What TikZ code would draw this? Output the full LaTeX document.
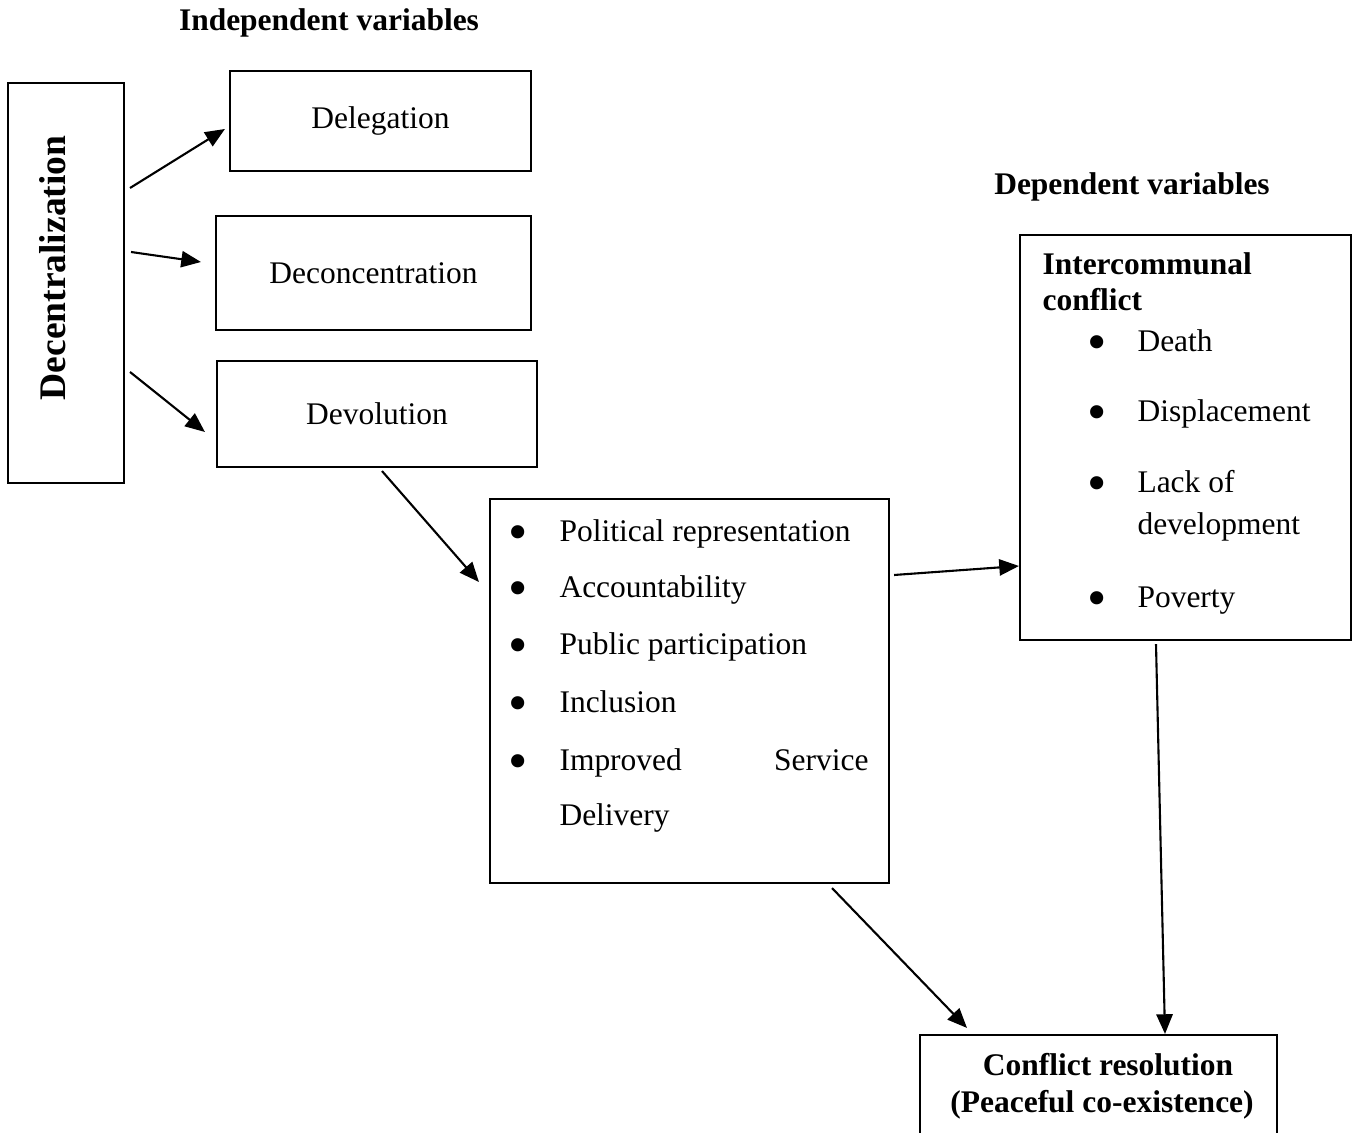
\documentclass[tikz,border=0pt]{standalone}
\usepackage{fontspec}
\setmainfont{Liberation Serif}
\usetikzlibrary{arrows.meta,calc}
\newcommand{\unitpx}{0.0134cm}

\begin{document}
\begin{tikzpicture}[x=0.0134cm, y=-0.0134cm,
  box/.style={draw, line width=0.8pt, inner sep=0pt},
  txt/.style={font=\fontsize{12}{14}\selectfont, inner sep=0pt},
  btxt/.style={font=\fontsize{12}{14}\selectfont\bfseries, inner sep=0pt},
  dot/.style={font=\fontsize{21}{21}\selectfont, inner sep=0pt},
  arr/.style={-{Triangle[length=7.5pt,width=6.2pt]}, line width=0.8pt}]
  \clip (0,0) rectangle (1357,1133);
  \fill[white] (0,0) rectangle (1357,1133);
  \node[btxt, anchor=base] (indep) at (329,31) {Independent variables};
  \node[btxt, anchor=base] (dep) at (1132,195) {Dependent variables};
  \node[box, minimum width=116*\unitpx, minimum height=400*\unitpx] (dec) at (66,283) {};
  \node[btxt, font=\fontsize{14.3}{17}\selectfont\bfseries, rotate=90] (dectxt) at (53,268) {Decentralization};
  \node[box, txt, minimum width=301*\unitpx, minimum height=100*\unitpx] (dele) at (380.5,121) {Delegation};
  \node[box, txt, minimum width=315*\unitpx, minimum height=114*\unitpx] (decon) at (373.5,273) {Deconcentration};
  \node[box, txt, minimum width=320*\unitpx, minimum height=106*\unitpx] (devo) at (377,414) {Devolution};
  % middle list
  \node[box, minimum width=399*\unitpx, minimum height=384*\unitpx] (list) at (689.5,691) {};
  \node[dot, anchor=base] (b1) at (518,551) {•};
  \node[txt, anchor=base west] (i1) at (559,542) {Political representation};
  \node[dot, anchor=base] (b2) at (518,607) {•};
  \node[txt, anchor=base west] (i2) at (559,598) {Accountability};
  \node[dot, anchor=base] (b3) at (518,664) {•};
  \node[txt, anchor=base west] (i3) at (559,655) {Public participation};
  \node[dot, anchor=base] (b4) at (518,722) {•};
  \node[txt, anchor=base west] (i4) at (559,713) {Inclusion};
  \node[dot, anchor=base] (b5) at (518,779) {•};
  \node[txt, anchor=base west, text width=309*\unitpx] (i5) at (559,770) {Improved\hfill Service};
  \node[txt, anchor=base west] (i6) at (559,826) {Delivery};
  % dependent box
  \node[box, minimum width=331*\unitpx, minimum height=405*\unitpx] (inter) at (1185.5,437.5) {};
  \node[btxt, anchor=base west] (h1) at (1042,275) {Intercommunal};
  \node[btxt, anchor=base west] (h2) at (1042,311) {conflict};
  \node[dot, anchor=base] (c1) at (1097,361) {•};
  \node[txt, anchor=base west] (d1) at (1137,352) {Death};
  \node[dot, anchor=base] (c2) at (1097,431) {•};
  \node[txt, anchor=base west] (d2) at (1137,422) {Displacement};
  \node[dot, anchor=base] (c3) at (1097,502) {•};
  \node[txt, anchor=base west] (d3) at (1137,493) {Lack of};
  \node[txt, anchor=base west] (d4) at (1137,535) {development};
  \node[dot, anchor=base] (c4) at (1097,617) {•};
  \node[txt, anchor=base west] (d5) at (1137,608) {Poverty};
  % outcome
  \node[box, minimum width=357*\unitpx, minimum height=140*\unitpx] (res) at (1098.5,1105) {};
  \node[btxt, anchor=base] (r1) at (1108,1075) {Conflict resolution};
  \node[btxt, anchor=base] (r2) at (1102,1112) {(Peaceful co-existence)};
  % arrows
  \draw[arr] ($(dec.east |- 0,188)+(5,0)$) -- ($(dele.west |- 0,129)+(-4,0)$);
  \draw[arr] ($(dec.east |- 0,252)+(6,0)$) -- ($(decon.west |- 0,262)+(-14,0)$);
  \draw[arr] ($(dec.east |- 0,372)+(5,0)$) -- ($(devo.west |- 0,432)+(-11,0)$);
  \draw[arr] ($(devo.south -| 382,0)+(0,3)$) -- ($(list.west |- 0,582)+(-10,0)$);
  \draw[arr] ($(list.east |- 0,575)+(4,0)$) -- (inter.west |- 0,566);
  \draw[arr] ($(list.south -| 832,0)+(0,4)$) -- ($(res.north -| 967,0)+(0,-6)$);
  \draw[arr] ($(inter.south -| 1156,0)+(0,3)$) -- (res.north -| 1165,0);
\end{tikzpicture}
\end{document}
